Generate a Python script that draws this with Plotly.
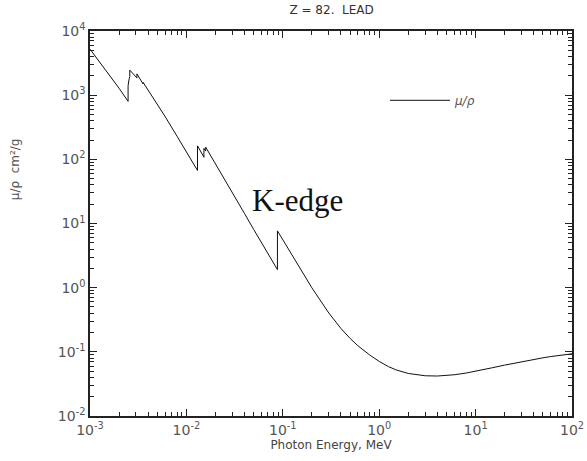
import plotly.graph_objects as go

# Lead (Z=82) mass attenuation coefficient
energy_mev = [1.0e-3, 1.5e-3, 2.0e-3, 2.484e-3, 2.484e-3, 2.534e-3, 2.586e-3, 2.586e-3,
              3.0e-3, 3.066e-3, 3.066e-3, 3.301e-3, 3.554e-3, 3.554e-3, 3.699e-3,
              3.851e-3, 3.851e-3, 4.0e-3, 5.0e-3, 6.0e-3, 8.0e-3, 1.0e-2,
              1.304e-2, 1.304e-2, 1.5e-2, 1.520e-2, 1.520e-2, 1.553e-2, 1.586e-2, 1.586e-2,
              2.0e-2, 3.0e-2, 4.0e-2, 5.0e-2, 6.0e-2, 8.0e-2, 8.8e-2, 8.8e-2,
              1.0e-1, 1.5e-1, 2.0e-1, 3.0e-1, 4.0e-1, 5.0e-1, 6.0e-1, 8.0e-1,
              1.0, 1.25, 1.5, 2.0, 3.0, 4.0, 5.0, 6.0, 8.0, 10.0, 15.0, 20.0,
              30.0, 40.0, 50.0, 60.0, 80.0, 100.0]
mu_rho = [5210, 2356, 1285, 800.6, 1397, 1726, 1944, 2458,
          1965, 1857, 2146, 1796, 1496, 1585, 1442,
          1311, 1368, 1251, 730.4, 467.2, 228.7, 130.6,
          67.01, 162.1, 111.6, 107.8, 148.5, 141.6, 134.4, 154.8,
          86.36, 30.32, 14.36, 8.041, 5.021, 2.419, 1.910, 7.683,
          5.549, 2.014, 0.9985, 0.4031, 0.2323, 0.1614, 0.1248, 0.0887,
          0.07102, 0.05876, 0.05222, 0.04606, 0.04234, 0.04197, 0.04272, 0.04391,
          0.04675, 0.04972, 0.05658, 0.06206, 0.0703, 0.0762, 0.0807, 0.0843,
          0.0895, 0.0932]

x_exponents = [-3, -2, -1, 0, 1, 2]
y_exponents = [-2, -1, 0, 1, 2, 3, 4]

title_text = "Z = 82.  LEAD"
x_title = "Photon Energy, MeV"
y_title = "μ/ρ  cm²/g"
series_name = "μ/ρ"
note_text = "K-edge"

font_main = "DejaVu Sans"


def decade_ticks(exps):
    vals = [10.0 ** e for e in exps]
    text = ["10<sup>%d</sup>" % e for e in exps]
    minor = [m * 10.0 ** e for e in exps[:-1] for m in range(2, 10)]
    return vals, text, minor


xv, xt, xm = decade_ticks(x_exponents)
yv, yt, ym = decade_ticks(y_exponents)

fig = go.Figure()
fig.add_trace(go.Scatter(x=energy_mev, y=mu_rho, mode="lines", name=series_name,
                         line=dict(color="#111111", width=1)))

axis_common = dict(
    type="log", showgrid=False, zeroline=False, automargin=False,
    showline=True, linecolor="#222222", linewidth=1.5, mirror="allticks",
    ticks="inside", ticklen=7, tickcolor="#222222", tickwidth=1,
    tickfont=dict(family=font_main, size=14, color="#555555"),
)

fig.update_xaxes(range=[-3, 2], tickmode="array", tickvals=xv, ticktext=xt,
                 minor=dict(ticks="inside", ticklen=4, tickcolor="#222222", showgrid=False,
                            tickmode="array", tickvals=xm),
                 title=dict(text=x_title, font=dict(family=font_main, size=12, color="#444444"),
                            standoff=2),
                 **axis_common)
fig.update_yaxes(range=[-2, 4], tickmode="array", tickvals=yv, ticktext=yt,
                 minor=dict(ticks="inside", ticklen=4, tickcolor="#222222", showgrid=False,
                            tickmode="array", tickvals=ym),
                 **axis_common)

fig.update_layout(
    width=587, height=461,
    margin=dict(l=90, r=15, t=31, b=45),
    paper_bgcolor="white", plot_bgcolor="white",
    title=dict(text=title_text, x=0.565, xanchor="center", y=0.978, yanchor="middle",
               font=dict(family=font_main, size=12, color="#333333")),
    showlegend=True,
    legend=dict(x=0.612, y=0.82, xanchor="left", yanchor="middle", bgcolor="rgba(0,0,0,0)",
                font=dict(family=font_main, size=12, color="#555555", style="italic"),
                itemwidth=60),
    annotations=[
        dict(text=y_title, xref="paper", yref="paper", x=-0.175, y=0.64, showarrow=False,
             textangle=-90, font=dict(family=font_main, size=12, color="#555555")),
        dict(text=note_text, xref="paper", yref="paper", x=0.43, y=0.561, showarrow=False,
             xanchor="center", yanchor="middle",
             font=dict(family="Liberation Serif", size=31, color="#111111")),
    ],
)

fig.write_html("out.html")
